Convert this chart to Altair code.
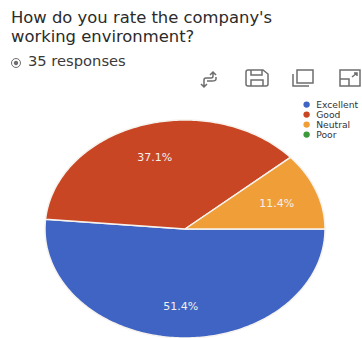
import numpy as np
import pandas as pd
import altair as alt

# Survey results
categories = ["Excellent", "Good", "Neutral", "Poor"]
counts = [18, 13, 4, 0]
colors = ["#3F64C4", "#C94624", "#F09F38", "#3C9A3C"]
title_lines = ["How do you rate the company's", "working environment?"]
responses_text = "35 responses"

total = sum(counts)

# Slice outlines in unit-circle coordinates; the x and y scales stretch them into an ellipse.
outline_rows = []
label_rows = []
start = 0.0
for name, count in zip(categories, counts):
    if count == 0:
        continue
    sweep = 2 * np.pi * count / total
    steps = max(2, int(np.degrees(sweep)))
    angles = start + np.linspace(0, sweep, steps + 1)
    ring = [(0.0, 0.0)] + [(np.cos(a), -np.sin(a)) for a in angles] + [(0.0, 0.0)]
    for i, (px, py) in enumerate(ring):
        outline_rows.append({"category": name, "step": i, "px": px, "py": py})
    mid = start + sweep / 2
    label_rows.append({
        "px": 0.70 * np.cos(mid),
        "py": -0.70 * np.sin(mid),
        "label": f"{100 * count / total:.1f}%",
    })
    start += sweep

x_scale = alt.Scale(domain=[-1, 1], range=[45, 325])
y_scale = alt.Scale(domain=[-1, 1], range=[338, 120])
x_enc = alt.X("px:Q", scale=x_scale, axis=None)
y_enc = alt.Y("py:Q", scale=y_scale, axis=None)

slices = alt.Chart(pd.DataFrame(outline_rows)).mark_line(
    stroke="#F6F3EE", strokeWidth=1.5, strokeJoin="round"
).encode(
    x=x_enc,
    y=y_enc,
    order="step:Q",
    fill=alt.Fill(
        "category:N",
        scale=alt.Scale(domain=categories, range=colors),
        legend=alt.Legend(
            title=None,
            orient="none",
            legendX=302,
            legendY=100,
            symbolType="circle",
            symbolSize=40,
            symbolStrokeWidth=0,
            symbolStrokeColor="transparent",
            labelFont="DejaVu Sans",
            labelFontSize=9.2,
            labelColor="#333333",
            labelLimit=80,
            labelOffset=5,
            rowPadding=0,
            padding=0,
        ),
    ),
)

labels = alt.Chart(pd.DataFrame(label_rows)).mark_text(
    font="DejaVu Sans", fontSize=11, color="#F3F0EC", baseline="middle", dy=2
).encode(x=x_enc, y=y_enc, text="label:N")

responses = alt.Chart(pd.DataFrame({"t": [responses_text]})).mark_text(
    font="DejaVu Sans", fontSize=14.7, color="#3A3A3A", align="left", baseline="middle"
).encode(x=alt.value(28), y=alt.value(62), text="t:N")


def glyph(path, px, py, width=1.5):
    """Toolbar-style outline glyph placed at a pixel position."""
    return alt.Chart(pd.DataFrame({"k": [0]})).mark_point(
        shape=path, size=4, filled=False, stroke="#6E6E6E", strokeWidth=width, opacity=1
    ).encode(x=alt.value(px), y=alt.value(py))


radio_ring = "M-4.5 0A4.5 4.5 0 1 0 4.5 0A4.5 4.5 0 1 0 -4.5 0Z"
radio_dot = "M-2.2 0A2.2 2.2 0 1 0 2.2 0A2.2 2.2 0 1 0 -2.2 0Z"
swap_icon = "M-6 7V0Q-6 -2 -4 -2H1Q3 -2 3 -4V-7M0 -5L3 -8L6 -5M-9 4L-6 7L-3 4M-3 1H2Q6 1 6 -1V-3"
save_icon = "M-11 -6Q-11 -8 -9 -8H6L11 -4V6Q11 8 9 8H-9Q-11 8 -11 6ZM-6 -8V-3H5V-8M-6 8V2H6V8"
copy_icon = "M-6 -8H10V5H-6ZM-10 -4V8H6"
resize_icon = "M-10 -8H10V8H-10ZM-10 1H-1V8M2 -1L7 -5M4 -5H7V-2"

radio = glyph(radio_ring, 16, 63, 1.0)
radio_center = alt.Chart(pd.DataFrame({"k": [0]})).mark_point(
    shape=radio_dot, size=4, filled=True, fill="#6E6E6E", stroke="#6E6E6E", strokeWidth=0, opacity=1
).encode(x=alt.value(16), y=alt.value(63))

chart = alt.layer(
    slices,
    labels,
    responses,
    radio,
    radio_center,
    glyph(swap_icon, 210, 80),
    glyph(save_icon, 257, 78),
    glyph(copy_icon, 303, 78),
    glyph(resize_icon, 350, 78),
).properties(
    width=362,
    height=338,
    padding=0,
    background="white",
    autosize=alt.AutoSizeParams(type="none"),
    title=alt.TitleParams(
        text=title_lines,
        anchor="start",
        frame="group",
        font="DejaVu Sans",
        fontSize=16.4,
        fontWeight="normal",
        color="#2B2B2B",
        lineHeight=19,
        offset=0,
        dx=11,
        dy=45,
    ),
).configure_view(stroke=None)

chart.save("out.html", embed_options={"renderer": "svg", "actions": False})
